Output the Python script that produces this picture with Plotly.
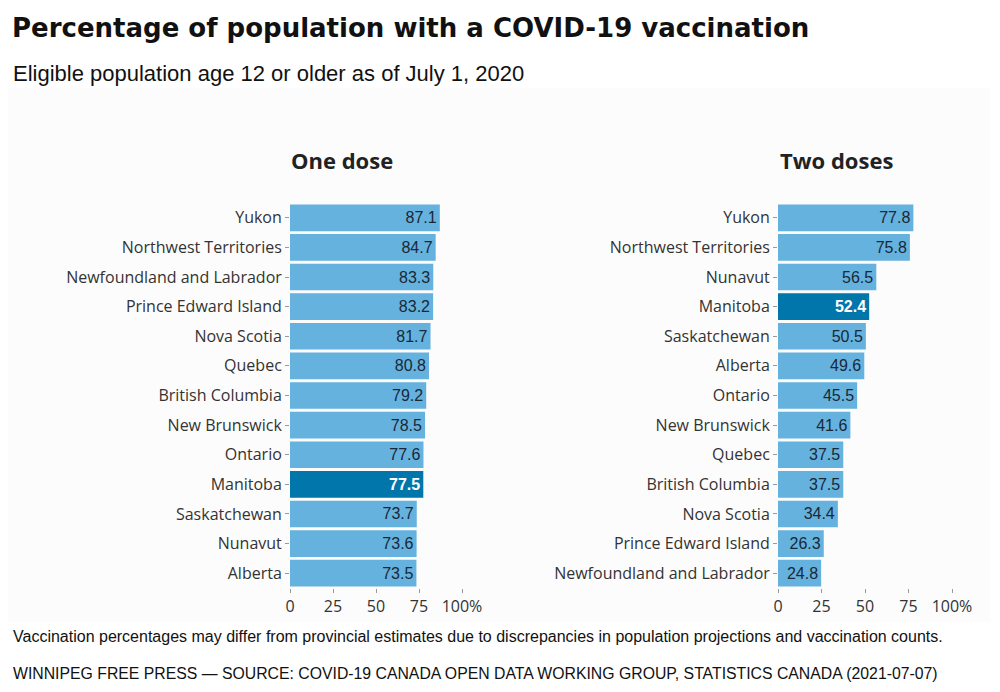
import plotly.graph_objects as go

# one dose, top to bottom
one_provinces = ["Yukon", "Northwest Territories", "Newfoundland and Labrador",
                 "Prince Edward Island", "Nova Scotia", "Quebec", "British Columbia",
                 "New Brunswick", "Ontario", "Manitoba", "Saskatchewan", "Nunavut", "Alberta"]
one_values = [87.1, 84.7, 83.3, 83.2, 81.7, 80.8, 79.2, 78.5, 77.6, 77.5, 73.7, 73.6, 73.5]

# two doses, top to bottom
two_provinces = ["Yukon", "Northwest Territories", "Nunavut", "Manitoba", "Saskatchewan",
                 "Alberta", "Ontario", "New Brunswick", "Quebec", "British Columbia",
                 "Nova Scotia", "Prince Edward Island", "Newfoundland and Labrador"]
two_values = [77.8, 75.8, 56.5, 52.4, 50.5, 49.6, 45.5, 41.6, 37.5, 37.5, 34.4, 26.3, 24.8]

tick_vals = [0, 25, 50, 75, 100]
tick_text = ["0", "25", "50", "75", "100%"]
highlight = "Manitoba"

LIGHT = "#64b2dd"
DARK = "#0076aa"

W, H, OFF = 1000, 692, 8  # page adds a small body margin


def px(x):
    return (x - OFF) / W


def py(y):
    return 1 - (y - OFF) / H


fig = go.Figure()


def add_panel(provinces, values, xa, ya):
    colors = [DARK if p == highlight else LIGHT for p in provinces]
    txt_colors = ["white" if p == highlight else "#1a2838" for p in provinces]
    fig.add_trace(go.Bar(
        x=values, y=provinces, orientation="h",
        marker=dict(color=colors, line=dict(width=0)),
        text=[f"{v:.1f}" for v in values],
        texttemplate=[("<b>%{text}</b>" if p == highlight else "%{text}") for p in provinces],
        textposition="inside", insidetextanchor="end",
        textfont=dict(family="Liberation Sans", size=16, color=txt_colors),
        constraintext="none",
        xaxis=xa, yaxis=ya, showlegend=False, hoverinfo="skip",
    ))


add_panel(one_provinces, one_values, "x", "y")
add_panel(two_provinces, two_values, "x2", "y2")

tick_font = dict(family="Open Sans", size=16, color="#333333")
xcommon = dict(range=[0, 100], tickvals=tick_vals, ticktext=tick_text, showgrid=False,
               zeroline=False, showline=False, ticks="outside", ticklen=4, tickcolor="#999999",
               tickfont=tick_font, automargin=False, fixedrange=True)
ycommon = dict(autorange="reversed", showgrid=False, zeroline=False, showline=False,
               ticks="outside", ticklen=4, tickcolor="#999999", tickfont=tick_font,
               automargin=False, domain=[py(588), py(203)], fixedrange=True)

fig.update_layout(
    width=W, height=H,
    margin=dict(l=0, r=0, t=0, b=0),
    paper_bgcolor="white", plot_bgcolor="rgba(0,0,0,0)",
    bargap=0.1,
    xaxis=dict(domain=[px(290), px(462)], anchor="y", **xcommon),
    yaxis=dict(anchor="x", **ycommon),
    xaxis2=dict(domain=[px(778), px(952)], anchor="y2", **xcommon),
    yaxis2=dict(anchor="x2", **ycommon),
)

# faint panel background behind charts
fig.add_shape(type="rect", xref="paper", yref="paper", x0=0.0, x1=px(990), y0=py(622),
              y1=py(88), fillcolor="#fcfcfc", line=dict(width=0), layer="below")

fig.add_annotation(text="<b>Percentage of population with a COVID-19 vaccination</b>",
                   xref="paper", yref="paper", x=px(10), y=py(28), xanchor="left", yanchor="middle",
                   showarrow=False, font=dict(family="DejaVu Sans", size=26, color="#111111"))
fig.add_annotation(text="Eligible population age 12 or older as of July 1, 2020",
                   xref="paper", yref="paper", x=px(11), y=py(73), xanchor="left", yanchor="middle",
                   showarrow=False, font=dict(family="Liberation Sans", size=22, color="#111111"))
fig.add_annotation(text="<b>One dose</b>", xref="paper", yref="paper", x=px(342), y=py(160),
                   xanchor="center", yanchor="middle", showarrow=False,
                   font=dict(family="Open Sans", size=22, color="#222222"))
fig.add_annotation(text="<b>Two doses</b>", xref="paper", yref="paper", x=px(836), y=py(160),
                   xanchor="center", yanchor="middle", showarrow=False,
                   font=dict(family="Open Sans", size=22, color="#222222"))
fig.add_annotation(text="Vaccination percentages may differ from provincial estimates due to discrepancies in population projections and vaccination counts.",
                   xref="paper", yref="paper", x=px(11), y=py(636), xanchor="left", yanchor="middle",
                   showarrow=False, font=dict(family="Liberation Sans", size=16, color="#111111"))
fig.add_annotation(text="WINNIPEG FREE PRESS \u2014 SOURCE: COVID-19 CANADA OPEN DATA WORKING GROUP, STATISTICS CANADA (2021-07-07)",
                   xref="paper", yref="paper", x=px(11), y=py(673), xanchor="left", yanchor="middle",
                   showarrow=False, font=dict(family="Liberation Sans", size=15.8, color="#111111"))

fig.write_html("out.html")
